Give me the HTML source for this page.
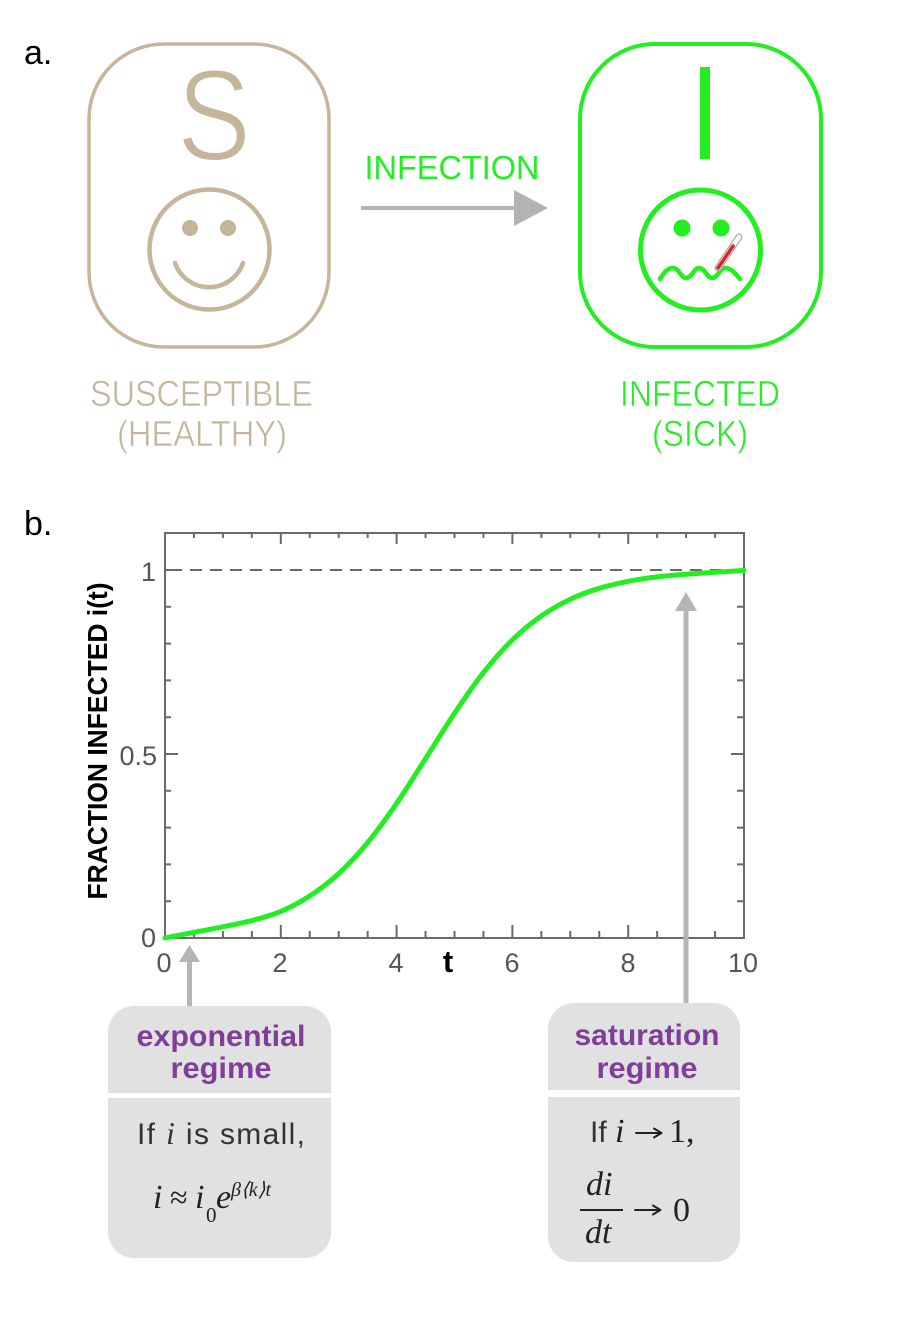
<!DOCTYPE html>
<html><head><meta charset="utf-8"><style>
html,body{margin:0;padding:0;background:#fff;}
svg{display:block;font-family:"Liberation Sans",sans-serif;}
.serif{font-family:"Liberation Serif",serif;font-style:italic;}
</style></head><body>
<svg width="900" height="1330" viewBox="0 0 900 1330" xmlns="http://www.w3.org/2000/svg">
<rect width="900" height="1330" fill="#fff"/>

<!-- panel labels -->
<text x="24" y="64" font-size="34" fill="#000">a.</text>
<text x="24" y="535" font-size="34" fill="#000">b.</text>

<!-- S box -->
<rect x="89" y="44" width="240" height="303" rx="75" ry="75" fill="none" stroke="#c4b59b" stroke-width="3.5"/>
<text x="214" y="160" font-size="130" fill="#c4b59b" stroke="#fff" stroke-width="2.5" text-anchor="middle" textLength="74" lengthAdjust="spacingAndGlyphs">S</text>
<circle cx="209.5" cy="249.5" r="60" fill="none" stroke="#c4b59b" stroke-width="4.5"/>
<circle cx="190" cy="228" r="8" fill="#c4b59b"/>
<circle cx="228" cy="228" r="8" fill="#c4b59b"/>
<path d="M175,263 A36,36 0 0 0 243,263" fill="none" stroke="#c4b59b" stroke-width="4.5" stroke-linecap="round"/>

<!-- arrow -->
<text x="452" y="179" font-size="33" fill="#22ee22" text-anchor="middle" textLength="175" lengthAdjust="spacingAndGlyphs">INFECTION</text>
<line x1="361" y1="208" x2="518" y2="208" stroke="#b3b3b3" stroke-width="4"/>
<polygon points="514,190 548,208 514,226" fill="#b3b3b3"/>

<!-- I box -->
<rect x="580" y="44" width="241" height="303" rx="75" ry="75" fill="none" stroke="#22ee22" stroke-width="4"/>
<rect x="700" y="67" width="10" height="92" fill="#22ee22"/>
<circle cx="700.5" cy="250" r="60" fill="none" stroke="#22ee22" stroke-width="5"/>
<circle cx="682" cy="228" r="8.5" fill="#22ee22"/>
<circle cx="721" cy="228" r="8.5" fill="#22ee22"/>
<path d="M660,279 C665,271 668,268 673,268 C679,268 681,278 686,278 C692,278 694,268 699,268 C705,268 707,278 712,278 C718,278 720,268 725,268 C731,268 735,273 740,279" fill="none" stroke="#22ee22" stroke-width="4.5" stroke-linecap="round"/>
<line x1="718" y1="268" x2="739" y2="237" stroke="#aaa" stroke-width="7" stroke-linecap="round"/>
<line x1="718" y1="268" x2="739" y2="237" stroke="#fff" stroke-width="4.5" stroke-linecap="round"/>
<line x1="718" y1="268" x2="733" y2="246" stroke="#e0202a" stroke-width="3.5" stroke-linecap="round"/>

<!-- labels -->
<g stroke="#fff" stroke-width="0.6">
<text x="201.5" y="406" font-size="36" fill="#c4b59b" text-anchor="middle" textLength="223" lengthAdjust="spacingAndGlyphs">SUSCEPTIBLE</text>
<text x="202" y="446" font-size="36" fill="#c4b59b" text-anchor="middle" textLength="170" lengthAdjust="spacingAndGlyphs">(HEALTHY)</text>
<text x="700" y="406" font-size="36" fill="#22ee22" text-anchor="middle" textLength="160" lengthAdjust="spacingAndGlyphs">INFECTED</text>
<text x="700" y="446" font-size="36" fill="#22ee22" text-anchor="middle" textLength="96" lengthAdjust="spacingAndGlyphs">(SICK)</text>
</g>

<!-- chart frame -->
<rect x="165" y="533" width="579" height="405" fill="none" stroke="#6a6a6a" stroke-width="2"/>
<line x1="170" y1="570" x2="744" y2="570" stroke="#6a6a6a" stroke-width="2" stroke-dasharray="12 8"/>

<!-- x ticks -->
<g stroke="#6a6a6a" stroke-width="2">
<path d="M193.95,938v-7M222.9,938v-7M251.85,938v-7M280.8,938v-13M309.75,938v-7M338.7,938v-7M367.65,938v-7M396.6,938v-13M425.55,938v-7M454.5,938v-7M483.45,938v-7M512.4,938v-13M541.35,938v-7M570.3,938v-7M599.25,938v-7M628.2,938v-13M657.15,938v-7M686.1,938v-7M715.05,938v-7"/>
<path d="M193.95,533v5M222.9,533v5M251.85,533v5M280.8,533v11M309.75,533v5M338.7,533v5M367.65,533v5M396.6,533v11M425.55,533v5M454.5,533v5M483.45,533v5M512.4,533v11M541.35,533v5M570.3,533v5M599.25,533v5M628.2,533v11M657.15,533v5M686.1,533v5M715.05,533v5"/>
<!-- y ticks -->
<path d="M165,901.2h6M165,864.4h6M165,827.6h6M165,790.8h6M165,754h13M165,717.2h6M165,680.4h6M165,643.6h6M165,606.8h6M165,570h13"/>
<path d="M744,901.2h-7M744,864.4h-7M744,827.6h-7M744,790.8h-7M744,754h-13M744,717.2h-7M744,680.4h-7M744,643.6h-7M744,606.8h-7M744,570h-13"/>
</g>

<!-- tick labels -->
<g font-size="27" fill="#555" text-anchor="middle">
<text x="164" y="972">0</text>
<text x="280" y="972">2</text>
<text x="396" y="972">4</text>
<text x="512" y="972">6</text>
<text x="628" y="972">8</text>
<text x="743" y="972">10</text>
</g>
<text x="448" y="972" font-size="31" font-weight="bold" fill="#000" text-anchor="middle">t</text>
<g font-size="27" fill="#555" text-anchor="end">
<text x="156" y="581">1</text>
<text x="157" y="765">0.5</text>
<text x="156" y="947">0</text>
</g>
<text transform="translate(107,741) rotate(-90)" x="0" y="0" font-size="28" font-weight="bold" fill="#000" text-anchor="middle" textLength="317" lengthAdjust="spacingAndGlyphs">FRACTION INFECTED i(t)</text>

<!-- curve -->
<path d="M165,938 C174.65,936.1 184.3,934.17 193.95,932.3 C203.6,930.43 213.25,928.75 222.9,926.8 C232.55,924.85 242.2,923.17 251.85,920.6 C261.5,918.03 271.15,915.5 280.8,911.4 C290.45,907.3 300.1,902.3 309.75,896 C319.4,889.7 329.05,882.5 338.7,873.6 C348.35,864.7 358,854.3 367.65,842.6 C377.3,830.9 386.95,817.4 396.6,803.4 C406.25,789.4 415.9,773.62 425.55,758.6 C435.2,743.58 444.85,727.63 454.5,713.3 C464.15,698.97 473.8,684.83 483.45,672.6 C493.1,660.37 502.75,649.35 512.4,639.9 C522.05,630.45 531.7,622.68 541.35,615.9 C551,609.12 560.65,603.8 570.3,599.2 C579.95,594.6 589.6,591.28 599.25,588.3 C608.9,585.32 618.55,583.2 628.2,581.3 C637.85,579.4 647.5,578.08 657.15,576.9 C666.8,575.72 676.45,574.92 686.1,574.2 C695.75,573.48 705.4,572.93 715.05,572.3 C724.7,571.67 734.35,571 744,570.5" fill="none" stroke="#22ee22" stroke-width="5" stroke-linecap="round" stroke-linejoin="round"/>

<!-- arrows to boxes -->
<line x1="189.5" y1="960" x2="189.5" y2="1008" stroke="#b5b5b5" stroke-width="5"/>
<polygon points="179,962 200,962 189.5,945" fill="#b5b5b5"/>
<line x1="686" y1="609" x2="686" y2="1005" stroke="#b5b5b5" stroke-width="5"/>
<polygon points="675,611 697,611 686,592" fill="#b5b5b5"/>

<!-- left box -->
<rect x="108" y="1006" width="223" height="252" rx="26" ry="26" fill="#e1e1e1"/>
<rect x="108" y="1093" width="223" height="5" fill="#fff"/>
<text x="221" y="1046" font-size="30" font-weight="bold" fill="#7f3f98" text-anchor="middle" textLength="169" lengthAdjust="spacingAndGlyphs">exponential</text>
<text x="221" y="1078" font-size="30" font-weight="bold" fill="#7f3f98" text-anchor="middle" textLength="101" lengthAdjust="spacingAndGlyphs">regime</text>
<text x="137" y="1144" font-size="30" fill="#333" textLength="168" lengthAdjust="spacing">If <tspan class="serif" font-size="32">i</tspan> is small,</text>
<g class="serif" fill="#222">
<text x="153" y="1208" font-size="34">i</text>
<text x="170" y="1208" font-size="32" font-style="normal">≈</text>
<text x="195" y="1208" font-size="34">i</text>
<text x="206" y="1222" font-size="21" font-style="normal">0</text>
<text x="216" y="1208" font-size="34">e</text>
<text x="231" y="1196" font-size="20">β⟨k⟩t</text>
</g>

<!-- right box -->
<rect x="548" y="1003" width="192" height="259" rx="26" ry="26" fill="#e1e1e1"/>
<rect x="548" y="1090" width="192" height="7" fill="#fff"/>
<text x="647" y="1045" font-size="30" font-weight="bold" fill="#7f3f98" text-anchor="middle" textLength="145" lengthAdjust="spacingAndGlyphs">saturation</text>
<text x="647" y="1078" font-size="30" font-weight="bold" fill="#7f3f98" text-anchor="middle" textLength="101" lengthAdjust="spacingAndGlyphs">regime</text>
<text x="590" y="1142" font-size="30" fill="#333">If</text>
<g class="serif" fill="#222">
<text x="615" y="1142" font-size="34">i</text>
<text x="669" y="1142" font-size="34" font-style="normal">1,</text>
<text x="586" y="1195" font-size="34">di</text>
<text x="585" y="1243" font-size="34">dt</text>
<text x="673" y="1221" font-size="34" font-style="normal">0</text>
</g>
<g fill="none" stroke="#222" stroke-width="2" stroke-linecap="round" stroke-linejoin="round">
<path d="M636,1133 H661 M654,1128.5 L661.5,1133 L654,1137.5"/>
<path d="M635,1210 H660 M653,1205.5 L660.5,1210 L653,1214.5"/>
</g>
<line x1="580" y1="1210" x2="623" y2="1210" stroke="#222" stroke-width="2"/>
</svg>
</body></html>
